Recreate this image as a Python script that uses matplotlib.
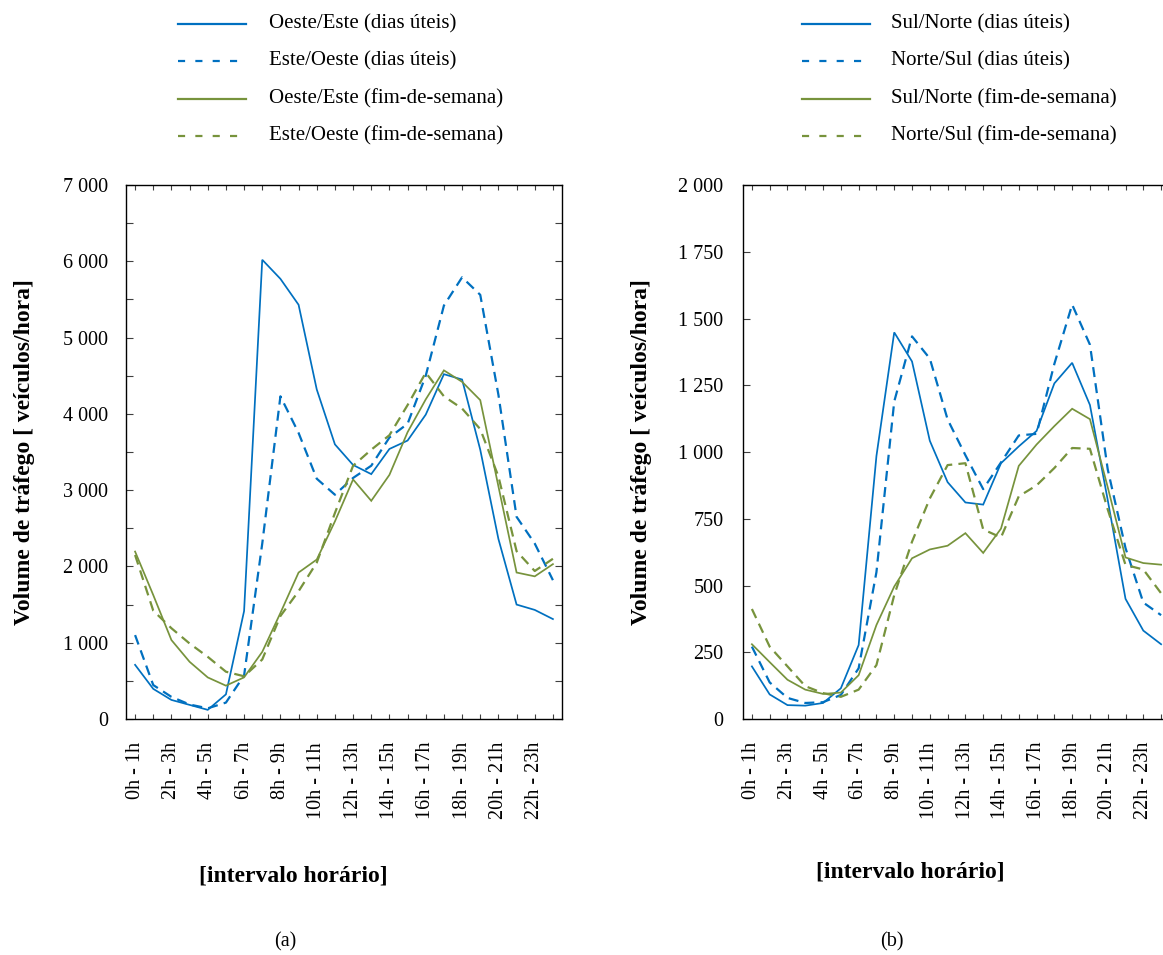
import matplotlib
matplotlib.use('Agg')
import matplotlib.pyplot as plt
from matplotlib.lines import Line2D

plt.rcParams['font.family'] = ['Liberation Serif', 'DejaVu Serif']

# ---------------- data ----------------
intervals = ["0h - 1h", "1h - 2h", "2h - 3h", "3h - 4h", "4h - 5h", "5h - 6h",
             "6h - 7h", "7h - 8h", "8h - 9h", "9h - 10h", "10h - 11h", "11h - 12h",
             "12h - 13h", "13h - 14h", "14h - 15h", "15h - 16h", "16h - 17h", "17h - 18h",
             "18h - 19h", "19h - 20h", "20h - 21h", "21h - 22h", "22h - 23h", "23h - 24h"]

# (a) Oeste/Este corridor
oe_uteis = [710, 395, 250, 185, 120, 323, 1415, 6020, 5770, 5430, 4320, 3600,
            3330, 3210, 3540, 3650, 3990, 4520, 4450, 3530, 2360, 1500, 1430, 1310]
eo_uteis = [1100, 445, 290, 190, 140, 215, 570, 2300, 4230, 3750, 3150, 2940,
            3160, 3320, 3690, 3870, 4500, 5420, 5790, 5560, 4250, 2650, 2300, 1820]
oe_fds = [2195, 1625, 1035, 750, 545, 437, 546, 880, 1390, 1920, 2090, 2590,
          3140, 2860, 3200, 3760, 4190, 4570, 4420, 4180, 3050, 1920, 1870, 2030]
eo_fds = [2150, 1420, 1190, 990, 815, 620, 560, 780, 1350, 1675, 2050, 2700,
          3320, 3530, 3720, 4115, 4540, 4230, 4070, 3800, 3180, 2200, 1940, 2100]

# (b) Sul/Norte corridor
sn_uteis = [197, 92, 52, 50, 60, 115, 277, 985, 1448, 1339, 1042, 887,
            811, 803, 958, 1021, 1079, 1257, 1334, 1176, 820, 450, 331, 280]
ns_uteis = [271, 137, 79, 60, 63, 90, 190, 550, 1189, 1433, 1350, 1122,
            988, 861, 961, 1062, 1068, 1330, 1552, 1402, 935, 640, 436, 389]
sn_fds = [280, 213, 147, 110, 94, 99, 164, 352, 496, 602, 635, 649,
          696, 622, 713, 948, 1028, 1097, 1162, 1123, 868, 605, 584, 578]
ns_fds = [412, 271, 197, 123, 97, 83, 110, 202, 464, 664, 826, 951,
          958, 710, 680, 834, 875, 940, 1015, 1012, 785, 577, 560, 471]

labels_a = ["Oeste/Este (dias úteis)", "Este/Oeste (dias úteis)",
            "Oeste/Este (fim-de-semana)", "Este/Oeste (fim-de-semana)"]
labels_b = ["Sul/Norte (dias úteis)", "Norte/Sul (dias úteis)",
            "Sul/Norte (fim-de-semana)", "Norte/Sul (fim-de-semana)"]

yticks_a = [0, 1000, 2000, 3000, 4000, 5000, 6000, 7000]
ytick_labels_a = ["0", "1 000", "2 000", "3 000", "4 000", "5 000", "6 000", "7 000"]
yticks_b = [0, 250, 500, 750, 1000, 1250, 1500, 1750, 2000]
ytick_labels_b = ["0", "250", "500", "750", "1 000", "1 250", "1 500", "1 750", "2 000"]

BLUE = '#0070C0'
GREEN = '#77933C'

W, H = 1163, 955
fig = plt.figure(figsize=(W / 100, H / 100), dpi=100)


def fx(px):
    return px / W


def fy(py):
    return 1 - py / H


def make_axes(left, right, top, bottom):
    return fig.add_axes([fx(left), fy(bottom), fx(right - left), (bottom - top) / H])


ax_a = make_axes(126, 562, 185, 719)
ax_b = make_axes(743, 1170, 185, 719)

x = list(range(len(intervals)))
styles = [(BLUE, '-'), (BLUE, '--'), (GREEN, '-'), (GREEN, '--')]


def draw(ax, series, yticks, yticklabels, ymax, minor_step, ypad):
    for s, (c, ls) in zip(series, styles):
        if ls == '-':
            ax.plot(x, s, color=c, lw=1.25, solid_joinstyle='miter')
        else:
            ax.plot(x, s, color=c, lw=1.6, dashes=(4.5, 2.8))
    ax.set_xlim(-0.5, 23.5)
    ax.set_ylim(0, ymax)
    ax.set_xticks(x)
    ax.set_xticklabels([lab if i % 2 == 0 else '' for i, lab in enumerate(intervals)],
                       rotation=90, fontsize=14.5)
    ax.set_yticks(yticks)
    ax.set_yticklabels(yticklabels, fontsize=14.5)
    if minor_step:
        ax.set_yticks([v for v in range(0, ymax + 1, minor_step) if v not in yticks], minor=True)
    ax.tick_params(axis='both', which='both', direction='in', top=True, right=True,
                   width=0.8, color='#404040')
    ax.tick_params(axis='y', which='both', length=5, pad=ypad)
    ax.tick_params(axis='x', length=3.5, pad=16.5)
    for sp in ax.spines.values():
        sp.set_linewidth(1.0)


draw(ax_a, [oe_uteis, eo_uteis, oe_fds, eo_fds], yticks_a, ytick_labels_a, 7000, 500, 13)
draw(ax_b, [sn_uteis, ns_uteis, sn_fds, ns_fds], yticks_b, ytick_labels_b, 2000, 0, 14)

# legends (drawn in figure coordinates)
rows = [24, 61, 99, 136]


def legend(x0, x1, xt, labels):
    for yy, lab, (c, ls) in zip(rows, labels, styles):
        if ls == '-':
            ln = Line2D([fx(x0), fx(x1)], [fy(yy), fy(yy)], transform=fig.transFigure,
                        color=c, lw=1.6)
        else:
            ln = Line2D([fx(x0), fx(x1 - 4)], [fy(yy), fy(yy)], transform=fig.transFigure,
                        color=c, lw=1.6, dashes=(3.2, 4.6))
        fig.add_artist(ln)
        fig.text(fx(xt), fy(yy), lab, fontsize=15, va='center', ha='left')


legend(178, 246, 269, labels_a)
legend(802, 870, 891, labels_b)

# axis titles
ylab = "Volume de tráfego [ veículos/hora]"
fig.text(fx(25), fy(452), ylab, rotation=90, fontsize=17, fontweight='bold',
         ha='center', va='center')
fig.text(fx(641), fy(452), ylab, rotation=90, fontsize=17, fontweight='bold',
         ha='center', va='center')
fig.text(fx(293), fy(876), "[intervalo horário]", fontsize=17, fontweight='bold',
         ha='center', va='center')
fig.text(fx(910), fy(872), "[intervalo horário]", fontsize=17, fontweight='bold',
         ha='center', va='center')
fig.text(fx(285), fy(942), "(a)", fontsize=14.5, ha='center', va='center')
fig.text(fx(892), fy(942), "(b)", fontsize=14.5, ha='center', va='center')

fig.savefig('out.png', dpi=100)
